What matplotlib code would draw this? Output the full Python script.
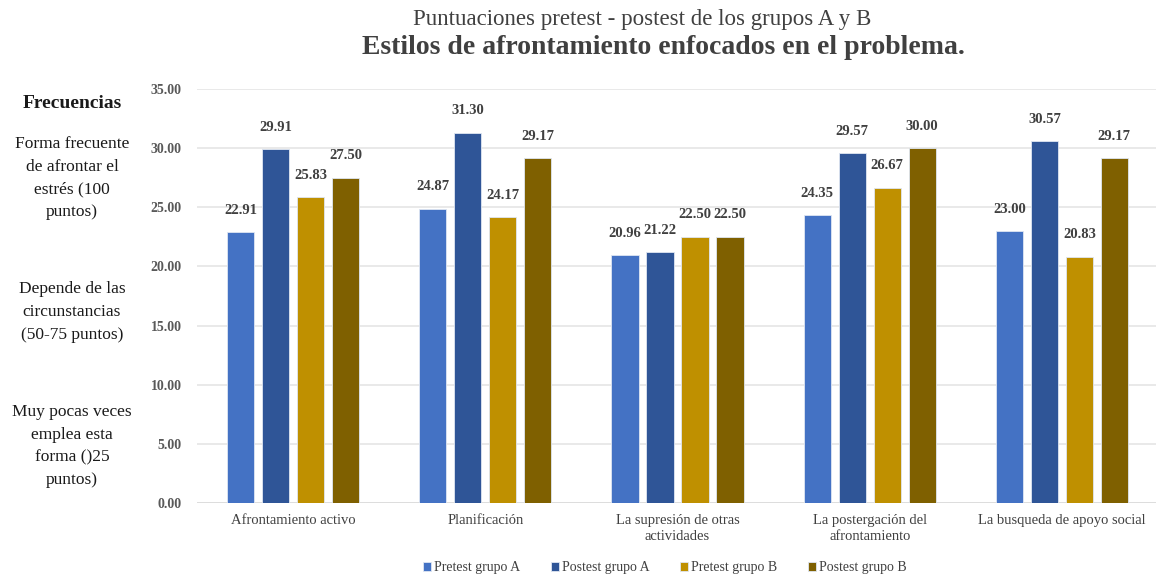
import matplotlib
matplotlib.use("Agg")
import matplotlib.pyplot as plt
import numpy as np

categories = [
    "Afrontamiento activo",
    "Planificación",
    "La supresión de otras\nactividades",
    "La postergación del\nafrontamiento",
    "La busqueda de apoyo social",
]
series_names = ["Pretest grupo A", "Postest grupo A", "Pretest grupo B", "Postest grupo B"]
pretest_a = [22.91, 24.87, 20.96, 24.35, 23.00]
postest_a = [29.91, 31.30, 21.22, 29.57, 30.57]
pretest_b = [25.83, 24.17, 22.50, 26.67, 20.83]
postest_b = [27.50, 29.17, 22.50, 30.00, 29.17]
colors = ["#4472C4", "#2F5597", "#BF9000", "#7F6000"]
y_ticks = [0, 5, 10, 15, 20, 25, 30, 35]

side_title = "Frecuencias"
side_notes = [
    ("Forma frecuente\nde afrontar el\nestrés (100\npuntos)", 178),
    ("Depende de las\ncircunstancias\n(50-75 puntos)", 312),
    ("Muy pocas veces\nemplea esta\nforma ()25\npuntos)", 446),
]

plt.rcParams["font.family"] = ["Liberation Serif", "DejaVu Serif"]

W, H = 1156, 577
fig = plt.figure(figsize=(W / 100, H / 100), dpi=100)
ax = fig.add_axes([197 / W, 1 - 503 / H, (1158 - 197) / W, (503 - 89) / H])

x = np.arange(len(categories))
step = 0.182
width = 0.142
all_series = [pretest_a, postest_a, pretest_b, postest_b]
for k, (vals, name, col) in enumerate(zip(all_series, series_names, colors)):
    offs = (k - 1.5) * step
    bars = ax.bar(x + offs, vals, width, color=col, label=name,
                  edgecolor="#dfe6f2", linewidth=0.6, zorder=3)
    for b, v in zip(bars, vals):
        ax.text(b.get_x() + b.get_width() / 2, v + 1.3, f"{v:.2f}",
                ha="center", va="bottom", fontsize=10.5, fontweight="bold",
                color="#404040", zorder=4)

ax.set_xlim(-0.5, len(categories) - 0.5)
ax.set_ylim(0, 35)
ax.set_yticks(y_ticks)
ax.set_yticklabels([f"{t:.2f}" for t in y_ticks], fontsize=10,
                   fontweight="bold", color="#595959")
ax.set_xticks(x)
ax.set_xticklabels(categories, fontsize=10.5, color="#404040", linespacing=1.25)
ax.tick_params(axis="both", length=0)
ax.tick_params(axis="y", pad=11)
ax.tick_params(axis="x", pad=8)
ax.yaxis.grid(True, color="#e3e3e3", linewidth=1.1, zorder=0)
for s in ax.spines.values():
    s.set_visible(False)
ax.axhline(0, color="#dadada", linewidth=1.1, zorder=2)

fig.text(642 / W, 1 - 19 / H, "Puntuaciones pretest - postest de los grupos A y B",
         ha="center", va="center", fontsize=16.5, color="#404040")
fig.text(663 / W, 1 - 47 / H, "Estilos de afrontamiento enfocados en el problema.",
         ha="center", va="center", fontsize=20, fontweight="bold", color="#404040")

fig.text(72 / W, 1 - 104 / H, side_title, ha="center", va="center",
         fontsize=14, fontweight="bold", color="#1a1a1a")
for txt, yc in side_notes:
    fig.text(72 / W, 1 - yc / H, txt, ha="center", va="center",
             fontsize=12.5, color="#1a1a1a", linespacing=1.55)

leg = fig.legend(loc="center", bbox_to_anchor=(665 / W, 1 - 568 / H), ncol=4,
                 frameon=False, fontsize=10, handlelength=0.55, handleheight=0.55,
                 handletextpad=0.25, columnspacing=2.2)
for t in leg.get_texts():
    t.set_color("#404040")

fig.savefig("out.png", dpi=100)
